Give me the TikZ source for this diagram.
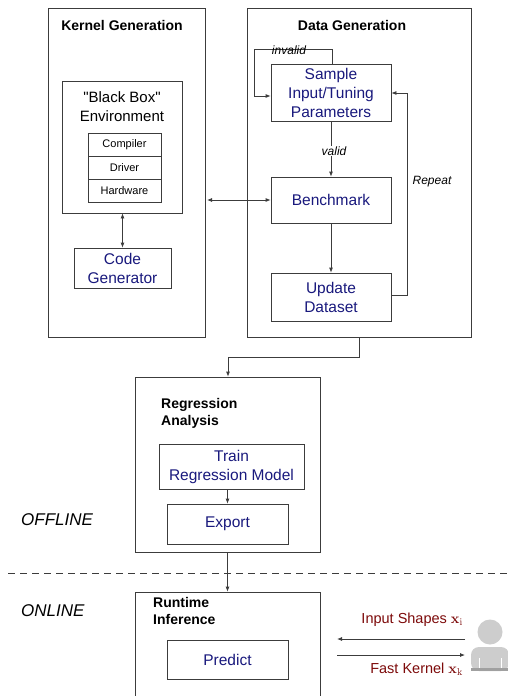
\documentclass[tikz,border=0pt]{standalone}
\usepackage[no-math]{fontspec}
\setmainfont{Liberation Sans}
\newfontfamily\qfont{Liberation Sans}[Ligatures=TeXOff]
\usetikzlibrary{arrows.meta}
\definecolor{lbl}{RGB}{25,25,125}
\definecolor{dred}{RGB}{125,10,10}
\definecolor{ln}{RGB}{60,60,60}
\definecolor{usr}{RGB}{205,205,205}
\definecolor{usrd}{RGB}{160,160,160}
\begin{document}
\begin{tikzpicture}[x=1pt,y=-1pt,
  box/.style={draw=ln, line width=0.8pt, inner sep=0pt, fill=none},
  arr/.style={draw=ln, line width=0.8pt, -{Latex[length=5pt,width=4pt]}},
  darr/.style={draw=ln, line width=0.8pt, {Latex[length=5pt,width=4pt]}-{Latex[length=5pt,width=4pt]}},
  blu/.style={text=lbl, font=\fontsize{15.5}{19}\selectfont, align=center, inner sep=0pt},
  ttl/.style={font=\bfseries\fontsize{14}{17}\selectfont, inner sep=0pt},
  sml/.style={font=\fontsize{11}{13}\selectfont, inner sep=0pt},
  itl/.style={font=\itshape\fontsize{12}{14}\selectfont, inner sep=1pt},
  phase/.style={font=\itshape\fontsize{17}{20}\selectfont, inner sep=0pt, anchor=west},
  ulbl/.style={text=dred, font=\fontsize{14.5}{17}\selectfont, inner sep=0pt, anchor=east}
]
\useasboundingbox (0,0) rectangle (508,696);
\clip (0,0) rectangle (508,696);
\fill[white] (0,0) rectangle (508,696);

% Kernel Generation
\node[box, minimum width=157pt, minimum height=329pt] (kg) at (126.5,172.5) {};
\node[ttl] (kgt) at (122,25) {Kernel Generation};
\node[box, minimum width=120pt, minimum height=132pt] (bb) at (122,147) {};
\node[font=\qfont\fontsize{15}{19}\selectfont, align=center, inner sep=0pt] (bbt) at (122,107) {"Black Box"\\Environment};
\node[box, sml, minimum width=73pt, minimum height=23pt] (comp) at (124.5,144.5) {Compiler};
\node[box, sml, minimum width=73pt, minimum height=23pt] (drv) at (124.5,167.5) {Driver};
\node[box, sml, minimum width=73pt, minimum height=23pt] (hw) at (124.5,190.5) {Hardware};
\node[box, blu, minimum width=97pt, minimum height=40pt] (cg) at (122.5,268) {Code\\Generator};
\draw[darr] (bb.south -| cg.north) -- (cg.north);

% Data Generation
\node[box, minimum width=224pt, minimum height=329pt] (dg) at (359,172.5) {};
\node[ttl] (dgt) at (352,25) {Data Generation};
\node[box, blu, minimum width=120pt, minimum height=57pt] (smp) at (331,92.5) {Sample\\Input/Tuning\\Parameters};
\node[box, blu, minimum width=120pt, minimum height=46pt] (bm) at (331,200) {Benchmark};
\node[box, blu, minimum width=120pt, minimum height=48pt] (upd) at (331,297) {Update\\Dataset};

\coordinate (inv1) at (332,49);
\coordinate (inv2) at (254,49);
\coordinate (inv3) at (254,96);
\draw[arr] (smp.north -| inv1) -- (inv1) -- (inv2) -- (inv3) -- (inv3 -| smp.west);
\node[itl] (invl) at (289,50) {invalid};

\draw[arr] (smp.south) -- (bm.north);
\node[itl, fill=white] (vl) at (334,151) {valid};
\draw[arr] (bm.south) -- (upd.north);

\coordinate (rp1) at (407,295);
\coordinate (rp2) at (407,93);
\draw[arr] (rp1 -| upd.east) -- (rp1) -- (rp2) -- (rp2 -| smp.east);
\node[itl] (rpl) at (432,182) {Repeat};

\coordinate (kgr) at (207,200);
\draw[darr] (kgr) -- (bm.west);

% Regression
\node[box, minimum width=185pt, minimum height=175pt] (reg) at (227.5,464.5) {};
\node[ttl, align=left, anchor=north west] (regt) at (161,398) {Regression\\Analysis};
\node[box, blu, minimum width=145pt, minimum height=45pt] (trn) at (231.5,466.5) {Train\\Regression Model};
\node[box, blu, minimum width=121pt, minimum height=40pt] (exp) at (227.5,524) {Export};
\coordinate (dgb) at (359,357);
\coordinate (regin) at (228,357);
\draw[arr] (dg.south -| dgb) -- (dgb) -- (regin) -- (regin |- reg.north);
\draw[arr] (trn.south -| exp.north) -- (exp.north);

\node[phase] (off) at (21,520) {OFFLINE};
\coordinate (dsa) at (8,573);
\coordinate (dsb) at (508,573);
\draw[ln, line width=0.8pt, dash pattern=on 7pt off 5pt] (dsa) -- (dsb);
\node[phase] (on) at (21,611) {ONLINE};

% Runtime
\node[box, minimum width=185pt, minimum height=120pt] (rt) at (227.5,652) {};
\node[ttl, align=left, anchor=north west] (rtt) at (153,597) {Runtime\\Inference};
\node[box, blu, minimum width=121pt, minimum height=39pt] (prd) at (227.5,659.5) {Predict};
\draw[arr] (reg.south -| exp.south) -- (exp.south |- rt.north);

% user
\fill[usr] (490,632) circle (12.5);
\fill[usr, rounded corners=8pt] (471,671) -- (471,647) -- (509,647) -- (509,671) -- cycle;
\fill[usrd] (471,668) rectangle (509,671);
\draw[white, line width=0.8pt] (479,658) -- (479,668) (501,658) -- (501,668);
\coordinate (u1) at (465,639);
\coordinate (u2) at (465,655);
\coordinate (l1) at (337,639);
\coordinate (l2) at (337,655);
\draw[arr] (u1) -- (l1);
\draw[arr] (l2) -- (u2);
\node[ulbl] (inl) at (463,620) {Input Shapes $\mathbf{x}_\mathrm{i}$};
\node[ulbl] (fkl) at (463,669) {Fast Kernel $\mathbf{x}_\mathrm{k}$};
\end{tikzpicture}
\end{document}
